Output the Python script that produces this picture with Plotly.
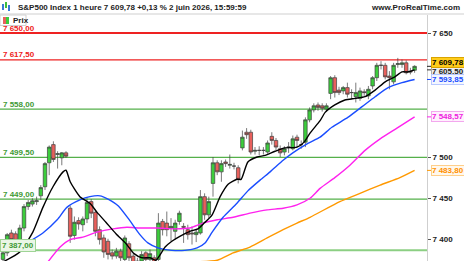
import plotly.graph_objects as go

# ---------------- data ----------------
idx = list(range(99))
opens = [7376,7384,7408,7407,7400,7414,7440,7443,7446,7453,7464,7493,7515,7503,7499,7505,
         7438,7405,7423,7418,7425,7446,7433,7412,7402,7398,7384,7380,7386,7376,7395,7380,7372,7374,7384,7376,7378,
         7376,7422,7420,7414,7410,7422,7416,7412,7408,7406,7408,7452,7430,7468,7493,7482,7494,7490,7489,7487,
         7511,7530,7530,7507,7508,7508,7506,7525,7520,7510,7506,7512,7510,7524,7515,7518,7545,7557,7563,7562,7558,
         7577,7596,7581,7580,7584,7578,7573,7571,7579,7574,7586,7596,7611,7611,7598,7591,7612,7612,7614,7604,7605]
highs = [7387,7408,7412,7410,7418,7443,7448,7450,7452,7466,7494,7514,7519,7507,7506,7507,
         7441,7428,7427,7428,7450,7449,7436,7416,7406,7401,7388,7390,7389,7405,7398,7383,7378,7386,7386,7388,7381,
         7432,7425,7434,7426,7424,7435,7420,7418,7416,7412,7460,7456,7452,7500,7496,7496,7497,7503,7493,7490,
         7532,7535,7533,7512,7513,7512,7520,7530,7523,7514,7513,7518,7526,7527,7520,7548,7560,7565,7566,7565,7565,
         7598,7599,7585,7586,7590,7582,7590,7584,7582,7586,7598,7614,7616,7614,7604,7614,7620,7618,7617,7608,7611]
lows = [7370,7380,7396,7397,7398,7410,7436,7440,7442,7448,7460,7478,7494,7486,7490,7499,
        7396,7400,7412,7410,7420,7426,7404,7394,7378,7376,7376,7377,7372,7370,7370,7366,7364,7371,7372,7373,7368,
        7372,7405,7404,7398,7400,7418,7396,7400,7394,7397,7406,7424,7426,7452,7478,7470,7488,7486,7485,7468,
        7508,7522,7503,7503,7502,7503,7504,7515,7508,7500,7502,7505,7508,7512,7510,7512,7542,7554,7556,7555,7555,
        7570,7572,7575,7576,7572,7570,7566,7568,7574,7570,7582,7592,7606,7594,7582,7588,7608,7608,7600,7600,7602]
closes = [7384,7406,7400,7399,7414,7440,7445,7447,7447,7463,7492,7512,7497,7504,7505,7501,
          7404,7421,7419,7425,7445,7432,7410,7400,7385,7382,7380,7386,7378,7402,7378,7372,7374,7382,7376,7383,7372,
          7420,7412,7412,7416,7420,7432,7415,7406,7407,7409,7452,7430,7446,7493,7482,7492,7492,7491,7489,7473,
          7524,7527,7506,7508,7508,7508,7517,7520,7512,7505,7510,7512,7522,7520,7515,7545,7557,7562,7560,7559,7562,
          7596,7578,7578,7584,7576,7578,7578,7580,7578,7582,7596,7611,7611,7597,7596,7611,7613,7614,7602,7603,7609.78]

ma_black_x = [0,4,7.1,9.5,11.9,14.3,15,16,18.3,20.7,22.4,24.5,26.9,29.3,31.2,33.1,35,36.4,38.6,40.2,42.1,44.5,
              46.4,47.9,49.8,51.7,53.6,55.7,56.7,58.3,60.5,62.4,64.8,67.1,70,71.7,73.1,75.5,76.7,79,81.4,83.8,
              86.2,88.6,91,93.3,95,96.4,98]
ma_black_y = [7373,7385,7409,7439,7464,7482,7484,7470,7452,7444,7433,7421,7407,7395,7383,7378,7378,7375,7391,
              7398,7404,7410,7413,7420,7430,7452,7467,7473,7473,7494,7500,7502,7507,7511,7512,7518,7529,7544,
              7554,7563,7569,7571,7573,7581,7591,7597,7603,7603,7605.5]
ma_blue_x = [5.7,9.5,12.9,15.2,18.3,20.7,23.1,25,27.4,30.2,32.6,34.5,36.9,40.2,43.3,46.2,48.1,49.8,52.4,55.7,
             58.3,61.2,63.6,66.7,69,72.4,75.5,78.3,82.1,85.5,88.6,91.7,95,98]
ma_blue_y = [7396,7408,7424,7439,7448,7452,7453,7449,7441,7423,7406,7396,7390,7387,7387,7390,7396,7409,7427,
             7444,7459,7472,7482,7496,7505,7516,7524,7536,7548,7561,7573,7584,7590,7593.85]
ma_mag_x = [10.7,13.6,16,19,22.4,26.2,29.5,32.6,36.7,41,44.5,47.6,51,54.8,58.8,62.9,66.7,70,73.1,75.5,79,
            82.6,86.2,89.8,93.8,98]
ma_mag_y = [7373,7391,7400,7403,7409,7413,7415,7414,7414,7413,7414,7420,7424,7427,7432,7436,7438,7442,7450,
            7462,7475,7490,7508,7522,7535,7548.57]
ma_org_x = [45.7,51,54.8,58.8,62.9,66.7,70,73.1,80.2,85,89.8,94.5,98]
ma_org_y = [7373,7375,7384,7391,7402,7412,7420,7427,7446,7456,7466,7475,7483.8]

levels = [7650.0, 7617.5, 7558.0, 7499.5, 7449.0, 7387.0]
level_text = ["7 650,00", "7 617,50", "7 558,00", "7 499,50", "7 449,00", "7 387,00"]
level_kind = ["red", "red", "green", "green", "green", "green2"]

axis_ticks = [7400, 7450, 7500, 7650]
axis_ticktext = ["7 400", "7 450", "7 500", "7 650"]

title_text = "S&P500 Index 1 heure 7 609,78 +0,13 % 2 juin 2026, 15:59:59"

# ---------------- figure ----------------
W, H = 464, 261
ML, MR, MT, MB = 0, 37, 15, 0
PW = W - ML - MR
PH = H - MT - MB
FONT = "Liberation Sans, Arial"

fig = go.Figure()

fig.add_trace(go.Candlestick(
    x=idx, open=opens, high=highs, low=lows, close=closes,
    increasing=dict(fillcolor="#3ccd3c", line=dict(color="#404040", width=0.7)),
    decreasing=dict(fillcolor="#e8605c", line=dict(color="#404040", width=0.7)),
    whiskerwidth=0, showlegend=False, hoverinfo="skip"))

for xs, ys, col in [(ma_org_x, ma_org_y, "#ff9900"), (ma_mag_x, ma_mag_y, "#ff22ee"),
                    (ma_blue_x, ma_blue_y, "#1a4dff"), (ma_black_x, ma_black_y, "#000000")]:
    fig.add_trace(go.Scatter(x=xs, y=ys, mode="lines",
                             line=dict(color=col, width=1.4, shape="spline", smoothing=0.6),
                             showlegend=False, hoverinfo="skip"))

shapes = []
annotations = []
colors = {"red": "#ee2222", "green": "#55b04a", "green2": "#8ccf83"}
textcol = {"red": "#ee2020", "green": "#3f9a35", "green2": "#3f9a35"}
for lv, txt, kind in zip(levels, level_text, level_kind):
    w = 2 if lv == 7650.0 or kind == "green2" else 1.2
    shapes.append(dict(type="line", xref="paper", yref="y", x0=0, x1=1, y0=lv, y1=lv,
                       line=dict(color=colors[kind], width=w), layer="below"))
    if kind == "green2":
        annotations.append(dict(xref="paper", yref="y", x=0, y=lv, xanchor="left", yanchor="middle",
                                yshift=5, xshift=0, text=txt, showarrow=False,
                                font=dict(family=FONT, size=8, color=textcol[kind], weight="bold"),
                                bgcolor="#eaf6e6", bordercolor="#9fd496", borderwidth=1, borderpad=1))
    else:
        annotations.append(dict(xref="paper", yref="y", x=0, y=lv, xanchor="left", yanchor="middle",
                                yshift=5, xshift=1, text=txt, showarrow=False,
                                font=dict(family=FONT, size=8, color=textcol[kind], weight="bold")))

# right-side value labels
vals = [(7605.50, "7 605,50", "#222222", "#eeeeee", "#aaaaaa", "#333333", -2),
        (7593.85, "7 593,85", "#1a4dff", "#f3f6ff", "#b8c8ff", "#1a4dff", 0),
        (7548.57, "7 548,57", "#ee22dd", "#fff0fd", "#f3a8ee", "#ff22ee", 0),
        (7483.80, "7 483,80", "#ff9000", "#fff8ec", "#ffcf8a", "#ff9900", 0),
        (7609.78, "7 609,78", "#000000", "#ffcc1a", "#d9a400", "#222222", 4)]
for v, t, fc, bg, bc, tc, ys in vals:
    shapes.append(dict(type="line", xref="paper", yref="y", x0=1, x1=1 + 4 / PW, y0=v, y1=v,
                       line=dict(color=tc, width=1)))
    annotations.append(dict(xref="paper", yref="y", x=1, y=v, xanchor="left", yanchor="middle",
                            xshift=4, yshift=ys, text=t, showarrow=False,
                            font=dict(family=FONT, size=8, color=fc, weight="bold"),
                            bgcolor=bg, bordercolor=bc, borderwidth=1, borderpad=0))

# header
px = lambda p: p / PW
py = lambda p: 1 + (MT - p) / PH
shapes.append(dict(type="line", xref="paper", yref="paper", x0=0, x1=W / PW, y0=py(14), y1=py(14),
                   line=dict(color="#cfcfcf", width=1)))
for (x0, y0, x1, y1, c) in [(2, 4, 4, 10, "#3a7bd5"), (5, 2, 7, 8, "#3cbf3c"), (8, 5, 10, 11, "#3a7bd5")]:
    shapes.append(dict(type="rect", xref="paper", yref="paper", x0=px(x0), x1=px(x1), y0=py(y0), y1=py(y1),
                       line=dict(width=0), fillcolor=c))
annotations.append(dict(xref="paper", yref="paper", x=px(16), y=py(7), xanchor="left", yanchor="middle",
                        text=title_text, showarrow=False,
                        font=dict(family=FONT, size=8, color="#222", weight="bold")))
annotations.append(dict(xref="paper", yref="paper", x=px(462), y=py(7), xanchor="right", yanchor="middle",
                        text="www.ProRealTime.com", showarrow=False,
                        font=dict(family=FONT, size=8, color="#222", weight="bold")))
# "Prix" legend box
shapes.append(dict(type="rect", xref="paper", yref="paper", x0=px(0), x1=px(26), y0=py(15), y1=py(25.5),
                   line=dict(color="#d0d0d0", width=1), fillcolor="white"))
shapes.append(dict(type="rect", xref="paper", yref="paper", x0=px(3), x1=px(6), y0=py(17), y1=py(24),
                   line=dict(width=0), fillcolor="#e8605c"))
shapes.append(dict(type="rect", xref="paper", yref="paper", x0=px(6), x1=px(9), y0=py(17), y1=py(24),
                   line=dict(width=0), fillcolor="#3ccd3c"))
annotations.append(dict(xref="paper", yref="paper", x=px(11), y=py(20.3), xanchor="left", yanchor="middle",
                        text="Prix", showarrow=False,
                        font=dict(family=FONT, size=8, color="#222", weight="bold")))

x0r = -3 / 4.2
x1r = (PW - 3) / 4.2
y_top = 7500 + (157 - 15) / 0.826
y_bot = 7500 - (261 - 157) / 0.826

fig.update_layout(
    width=W, height=H, margin=dict(l=ML, r=MR, t=MT, b=MB),
    paper_bgcolor="white", plot_bgcolor="white",
    boxgap=0.12, boxgroupgap=0.05,
    shapes=shapes, annotations=annotations, showlegend=False,
    xaxis=dict(range=[x0r, x1r], visible=False, rangeslider=dict(visible=False), fixedrange=True),
    yaxis=dict(range=[y_bot, y_top], side="right", showgrid=False, zeroline=False,
               tickvals=axis_ticks, ticktext=axis_ticktext, ticks="outside", ticklen=3,
               tickcolor="#555", showline=True, linecolor="#cfcfcf", linewidth=1,
               tickfont=dict(family=FONT, size=8, color="#222", weight="bold"),
               fixedrange=True),
)

fig.write_html("out.html")
